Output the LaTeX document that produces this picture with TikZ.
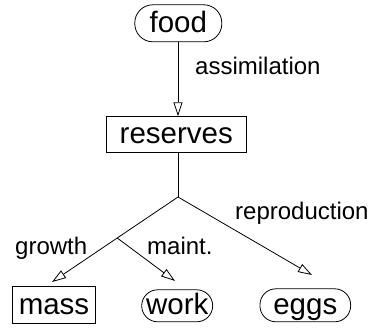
\documentclass[tikz,border=0pt]{standalone}
\usepackage{fontspec}
\setmainfont{Liberation Sans}
\usetikzlibrary{arrows.meta}
\begin{document}
\begin{tikzpicture}[x=1pt,y=-1pt,
  box/.style={draw, line width=0.8pt, inner sep=0pt, font=\fontsize{29.5}{30}\selectfont, text height=21pt, text depth=3pt, minimum height=36pt},
  pill/.style={box, rounded corners=16pt},
  lbl/.style={font=\fontsize{24}{26}\selectfont, inner sep=0pt, anchor=base west},
  arr/.style={line width=0.8pt, -{Triangle[open, length=14pt, width=9pt]}},
  ln/.style={line width=0.8pt}]
\useasboundingbox (0,0) rectangle (370,329);
\node[pill, rounded corners=18pt, minimum width=87pt, minimum height=37pt] (food) at (178.3,23.3) {food};
\node[box, minimum width=140.7pt] (reserves) at (176.3,134.7) {reserves};
\node[box, minimum width=83.4pt, minimum height=36.6pt] (mass) at (54,305) {mass};
\node[pill, minimum width=71pt, minimum height=32pt] (work) at (177.2,305.8) {work};
\node[pill, minimum width=90.7pt, minimum height=33pt] (eggs) at (305.3,305.3) {eggs};
\coordinate (j0) at (178,197);
\coordinate (j1) at (117.2,238);
\coordinate (tm) at (52,282);
\coordinate (tw) at (175,281);
\coordinate (te) at (312,275);
\draw[arr] (food.south -| j0) -- (reserves.north -| j0);
\draw[ln] (reserves.south -| j0) -- (j0);
\draw[arr] (j0) -- (tm);
\draw[arr] (j1) -- (tw);
\draw[arr] (j0) -- (te);
\node[lbl] (lassim) at (195,75) {assimilation};
\node[lbl] (lrep) at (235,219) {reproduction};
\node[lbl] (lgrowth) at (15,254) {growth};
\node[lbl] (lmaint) at (147,254) {maint.};
\end{tikzpicture}
\end{document}
